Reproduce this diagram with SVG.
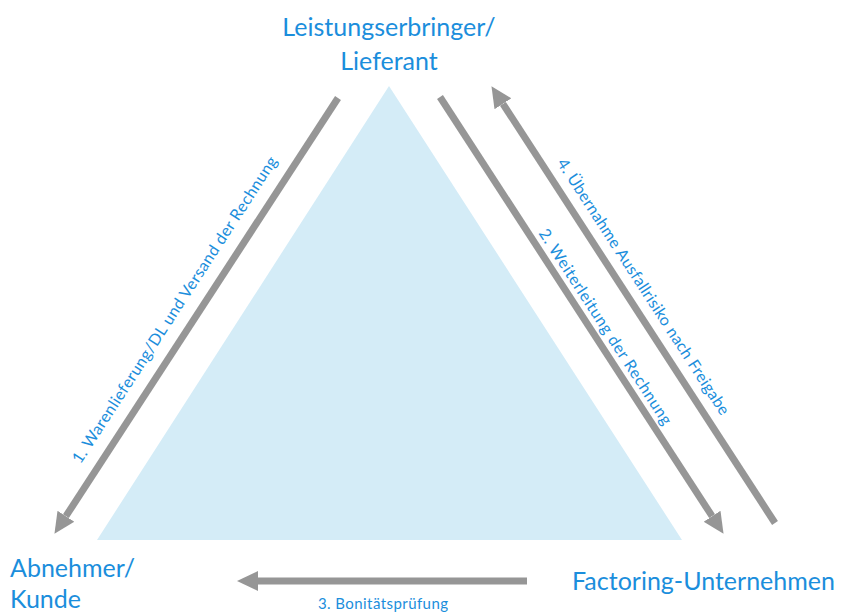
<svg xmlns="http://www.w3.org/2000/svg" width="850" height="614" viewBox="0 0 850 614">
<defs>
<style>
.node{font-family:Lato,"Open Sans","Liberation Sans",sans-serif;fill:#1b8edc;font-size:25px}
.lbl{font-family:Lato,"Open Sans","Liberation Sans",sans-serif;fill:#1b8edc;font-size:16px}
.arr{stroke:#969696;stroke-width:7;fill:none;marker-end:url(#ah)}
</style>
<marker id="ah" markerUnits="userSpaceOnUse" markerWidth="24" markerHeight="24" viewBox="0 -12 24 24" refX="0" refY="0" orient="auto">
<path d="M0,-10 L21,0 L0,10 z" fill="#969696"/>
</marker>
</defs>
<rect width="850" height="614" fill="#ffffff"/>
<g id="triangle"><polygon points="389,86 97,540 682,540" fill="#d4ecf7"/></g>
<g id="connectors">
<line class="arr" x1="338" y1="98" x2="65.9" y2="516.2"/>
<line class="arr" x1="440" y1="97" x2="712.1" y2="516.2"/>
<line class="arr" x1="775" y1="523" x2="502.9" y2="103.8"/>
<line class="arr" x1="527" y1="581" x2="258" y2="581"/>
<g transform="translate(175,310) rotate(-57)"><text class="lbl" x="0" y="5" text-anchor="middle" textLength="362">1. Warenlieferung/DL und Versand der Rechnung</text></g>
<g transform="translate(605,327) rotate(57)"><text class="lbl" x="0" y="5" text-anchor="middle" textLength="230">2. Weiterleitung der Rechnung</text></g>
<g transform="translate(643,287) rotate(57)"><text class="lbl" x="0" y="5" text-anchor="middle" textLength="302">4. Übernahme Ausfallrisiko nach Freigabe</text></g>
<text class="lbl" x="383" y="609" text-anchor="middle" textLength="130" style="font-size:15px">3. Bonitätsprüfung</text>
</g>
<g id="lieferant"><text class="node" text-anchor="middle"><tspan x="389" y="36">Leistungserbringer/</tspan><tspan x="389" y="70">Lieferant</tspan></text></g>
<g id="kunde"><text class="node"><tspan x="10" y="577">Abnehmer/</tspan><tspan x="10" y="608">Kunde</tspan></text></g>
<g id="factoring"><text class="node" x="572" y="590">Factoring-Unternehmen</text></g>
</svg>
